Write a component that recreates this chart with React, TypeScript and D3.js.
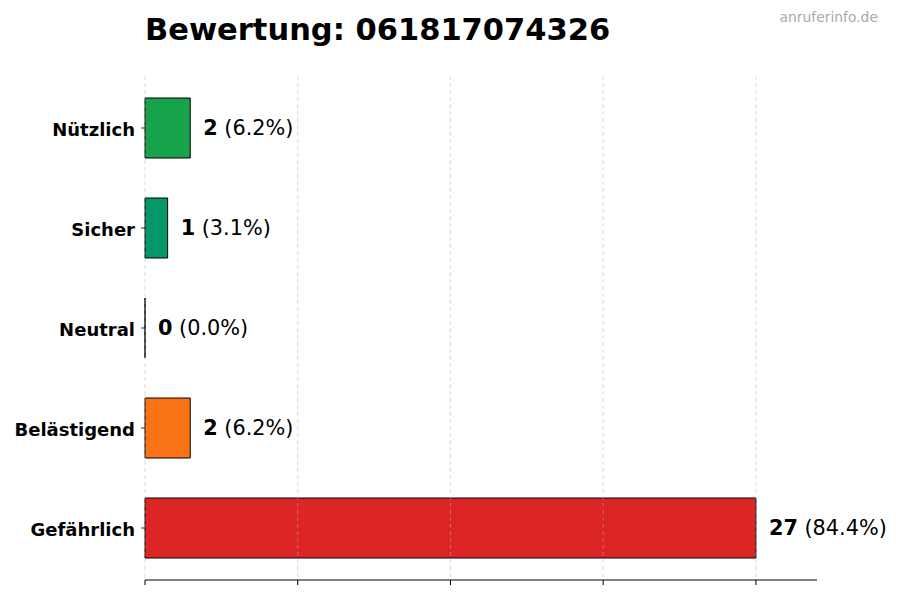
import React from 'react';
import * as d3 from 'd3';

// Bewertungs-Daten
const categories = ['Nützlich', 'Sicher', 'Neutral', 'Belästigend', 'Gefährlich'];
const counts = [2, 1, 0, 2, 27];
const percents = ['6.2%', '3.1%', '0.0%', '6.2%', '84.4%'];
const barColors = ['#16a34a', '#059669', '#9ca3af', '#f97316', '#dc2626'];
const titleText = 'Bewertung: 061817074326';
const watermark = 'anruferinfo.de';

const W = 900;
const H = 600;
const FONT = '"DejaVu Sans", sans-serif';

const App: React.FC = () => {
  const maxVal = d3.max(counts) as number;
  const x = d3.scaleLinear().domain([0, maxVal * 1.1]).range([145, 817]);
  const y = d3.scaleLinear().domain([-0.52, categories.length - 0.48]).range([76, 580]);
  const barH = y(0.6) - y(0);
  const tickVals = d3.range(5).map(i => (maxVal * i) / 4);
  const plotTop = y(-0.52);
  const plotBottom = y(categories.length - 0.48);

  // path instead of rect so a zero-width bar still shows its edge
  const barPath = (i: number) => {
    const p = d3.path();
    p.rect(x(0), y(i) - barH / 2, x(counts[i]) - x(0), barH);
    return p.toString();
  };

  return (
    <svg
      width={W}
      height={H}
      style={{ position: 'absolute', left: 0, top: 0, background: '#fff' }}
      fontFamily={FONT}
    >
      {/* title + watermark */}
      <text x={145} y={40} fontSize={30.5} fontWeight="bold" fill="#000">{titleText}</text>
      <text x={878} y={22} fontSize={13.9} fill="#aaaaaa" textAnchor="end">{watermark}</text>

      {/* bars */}
      {categories.map((c, i) => (
        <path
          key={c}
          d={barPath(i)}
          fill={barColors[i]}
          stroke="#000"
          strokeWidth={1}
        />
      ))}

      {/* grid (on top, faint) */}
      {tickVals.map(t => (
        <line
          key={`g${t}`}
          x1={x(t)}
          x2={x(t)}
          y1={plotTop}
          y2={plotBottom}
          stroke="#b0b0b0"
          strokeOpacity={0.6}
          strokeWidth={0.8}
          strokeDasharray="4,3"
        />
      ))}

      {/* value labels */}
      {categories.map((c, i) => (
        <text key={`v${c}`} x={x(counts[i]) + 13} y={y(i)} dy="0.36em" fontSize={20.8} fill="#000">
          <tspan fontWeight="bold">{counts[i]}</tspan>
          <tspan> ({percents[i]})</tspan>
        </text>
      ))}

      {/* y axis labels + ticks */}
      {categories.map((c, i) => (
        <g key={`y${c}`}>
          <line x1={x(0) - 4} x2={x(0)} y1={y(i)} y2={y(i)} stroke="#000" strokeWidth={0.8} />
          <text x={x(0) - 10} y={y(i)} dy="0.42em" textAnchor="end" fontSize={18} fontWeight="bold" fill="#000">
            {c}
          </text>
        </g>
      ))}

      {/* bottom spine + ticks */}
      <line x1={x(0)} x2={x.range()[1]} y1={plotBottom} y2={plotBottom} stroke="#000" strokeWidth={1} />
      {tickVals.map(t => (
        <line key={`t${t}`} x1={x(t)} x2={x(t)} y1={plotBottom} y2={plotBottom + 5} stroke="#000" strokeWidth={1} />
      ))}
    </svg>
  );
};

export default App;
